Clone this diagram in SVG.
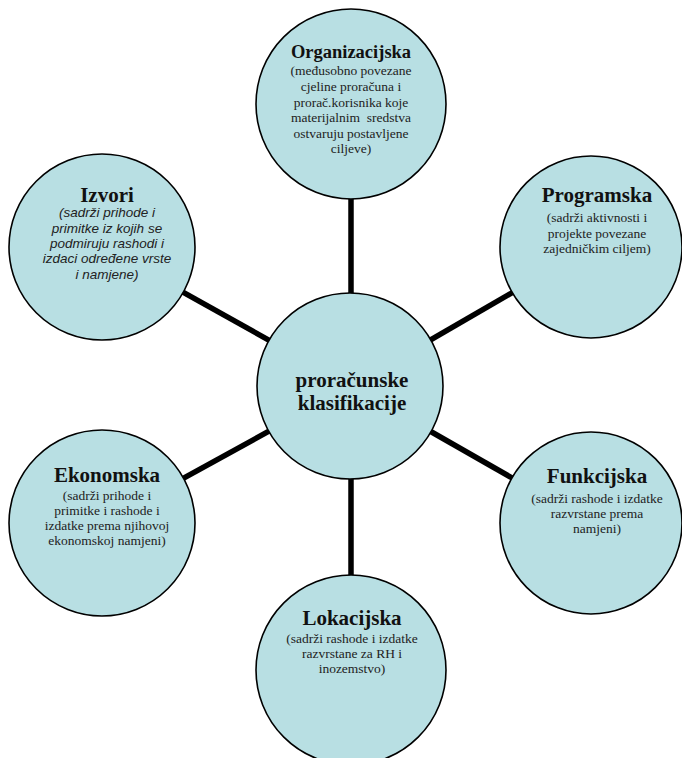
<svg xmlns="http://www.w3.org/2000/svg" width="682" height="758" viewBox="0 0 682 758">
<style>
.c{fill:#B8DFE3;stroke:#000;stroke-width:1.6}
.ln{stroke:#000;stroke-width:5.5;fill:none}
.t{font-family:"Liberation Serif","Times New Roman",serif;font-weight:bold;font-size:21px;fill:#111;text-anchor:middle}
.s{font-family:"Liberation Serif","Times New Roman",serif;font-size:13.5px;fill:#222;text-anchor:middle}
.i{font-family:"Liberation Sans",Arial,sans-serif;font-style:italic;font-size:13.5px;fill:#222;text-anchor:middle}
</style>
<rect width="682" height="758" fill="#fff"/>
<g id="connectors">
<line class="ln" x1="351" y1="386" x2="351" y2="105"/>
<line class="ln" x1="351" y1="386" x2="102" y2="247"/>
<line class="ln" x1="351" y1="386" x2="591" y2="247"/>
<line class="ln" x1="351" y1="386" x2="102" y2="523"/>
<line class="ln" x1="351" y1="386" x2="591" y2="523"/>
<line class="ln" x1="351" y1="386" x2="351" y2="670"/>
</g>
<g id="organizacijska">
<circle class="c" cx="351" cy="104" r="95"/>
<text class="t" x="351" y="58" style="font-size:18.5px">Organizacijska</text>
<text class="s" x="351" y="75">(međusobno povezane</text>
<text class="s" x="351" y="91">cjeline proračuna i</text>
<text class="s" x="351" y="106.5">prorač.korisnika koje</text>
<text class="s" x="351" y="122" xml:space="preserve">materijalnim  sredstva</text>
<text class="s" x="351" y="137.5">ostvaruju postavljene</text>
<text class="s" x="351" y="153">ciljeve)</text>
</g>
<g id="izvori">
<circle class="c" cx="102" cy="247" r="93"/>
<text class="t" x="107" y="202">Izvori</text>
<text class="i" x="107" y="217">(sadrži prihode i</text>
<text class="i" x="107" y="232.5">primitke iz kojih se</text>
<text class="i" x="107" y="248">podmiruju rashodi i</text>
<text class="i" x="107" y="263">izdaci određene vrste</text>
<text class="i" x="107" y="278.5">i namjene)</text>
</g>
<g id="programska">
<circle class="c" cx="591" cy="247" r="91"/>
<text class="t" x="597" y="202">Programska</text>
<text class="s" x="597" y="222">(sadrži aktivnosti i</text>
<text class="s" x="597" y="237.5">projekte povezane</text>
<text class="s" x="597" y="253">zajedničkim ciljem)</text>
</g>
<g id="center">
<circle class="c" cx="350" cy="386" r="93"/>
<text class="t" x="352" y="387">proračunske</text>
<text class="t" x="352" y="410">klasifikacije</text>
</g>
<g id="ekonomska">
<circle class="c" cx="102" cy="523" r="93"/>
<text class="t" x="107" y="482">Ekonomska</text>
<text class="s" x="107" y="500">(sadrži prihode i</text>
<text class="s" x="107" y="515">primitke i rashode i</text>
<text class="s" x="107" y="530">izdatke prema njihovoj</text>
<text class="s" x="107" y="545">ekonomskoj namjeni)</text>
</g>
<g id="funkcijska">
<circle class="c" cx="591" cy="523" r="91"/>
<text class="t" x="597" y="483">Funkcijska</text>
<text class="s" x="597" y="503">(sadrži rashode i izdatke</text>
<text class="s" x="597" y="518">razvrstane prema</text>
<text class="s" x="597" y="533">namjeni)</text>
</g>
<g id="lokacijska">
<circle class="c" cx="351" cy="670" r="95"/>
<text class="t" x="352" y="625">Lokacijska</text>
<text class="s" x="352" y="643">(sadrži rashode i izdatke</text>
<text class="s" x="352" y="658">razvrstane za RH i</text>
<text class="s" x="352" y="673">inozemstvo)</text>
</g>
</svg>
